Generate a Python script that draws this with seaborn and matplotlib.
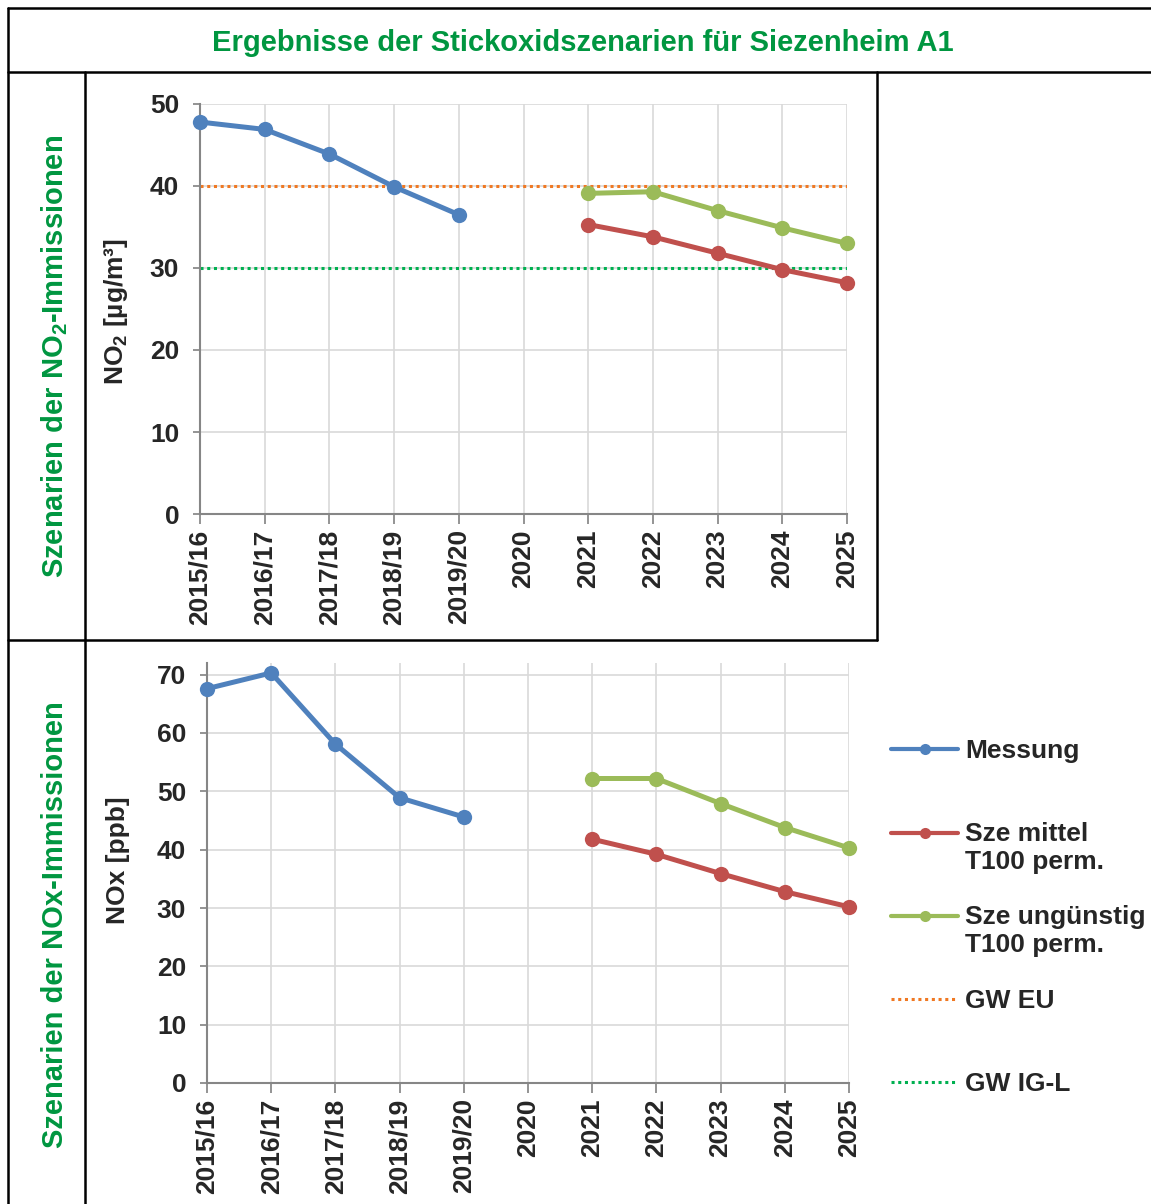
import numpy as np
import pandas as pd
import matplotlib
matplotlib.use("Agg")
import matplotlib.pyplot as plt
from matplotlib.lines import Line2D
from matplotlib.legend_handler import HandlerLine2D
import seaborn as sns

categories = ['2015/16', '2016/17', '2017/18', '2018/19', '2019/20',
              '2020', '2021', '2022', '2023', '2024', '2025']
nan = np.nan

no2_messung = [47.8, 46.9, 43.9, 39.9, 36.5, nan, nan, nan, nan, nan, nan]
no2_mittel = [nan, nan, nan, nan, nan, nan, 35.3, 33.8, 31.8, 29.8, 28.2]
no2_ungunstig = [nan, nan, nan, nan, nan, nan, 39.1, 39.3, 37.0, 34.9, 33.0]
gw_eu = 40
gw_igl = 30

nox_messung = [67.6, 70.3, 58.1, 48.9, 45.6, nan, nan, nan, nan, nan, nan]
nox_mittel = [nan, nan, nan, nan, nan, nan, 41.8, 39.2, 35.9, 32.8, 30.2]
nox_ungunstig = [nan, nan, nan, nan, nan, nan, 52.2, 52.2, 47.9, 43.8, 40.3]

# every legend entry gets two text lines, like the Excel legend slots
labels = ['Messung\n ', 'Sze mittel\nT100 perm.', 'Sze ungünstig\nT100 perm.', 'GW EU\n ', 'GW IG-L\n ']
colors = ['#4F81BD', '#C0504D', '#9BBB59', '#F07822', '#00B050']
green_text = '#009640'

W, H = 1151, 1204
FS = 19

sns.set_theme(style="whitegrid")
plt.rcParams['font.family'] = ['Liberation Sans', 'DejaVu Sans']
plt.rcParams['font.weight'] = 'bold'
plt.rcParams['mathtext.fontset'] = 'custom'
plt.rcParams['mathtext.rm'] = 'Liberation Sans:bold'
plt.rcParams['mathtext.bf'] = 'Liberation Sans:bold'
plt.rcParams['mathtext.default'] = 'bf'

fig = plt.figure(figsize=(W / 100, H / 100), dpi=100)


def box(l, t, r, b):
    return [l / W, 1 - b / H, (r - l) / W, (b - t) / H]


def fline(x0, y0, x1, y1):
    fig.add_artist(Line2D([x0 / W, x1 / W], [1 - y0 / H, 1 - y1 / H],
                          transform=fig.transFigure, color='black', lw=1.8))


xpos = np.arange(len(categories))
dots = (0, (1, 1.2))


def draw(ax, series, limits, ymax, yticks):
    for vals, col in zip(series, colors[:3]):
        sns.lineplot(x=xpos, y=vals, ax=ax, color=col, linewidth=3.6,
                     marker='o', markersize=11, markeredgewidth=0, errorbar=None,
                     clip_on=False, zorder=5)
    for val, col in zip(limits, colors[3:]):
        sns.lineplot(x=xpos, y=[val] * len(xpos), ax=ax, color=col,
                     linewidth=2.2, linestyle=dots, errorbar=None)
    ax.set_xlim(0, len(categories) - 1)
    ax.set_ylim(0, ymax)
    ax.set_yticks(yticks)
    ax.set_xticks(xpos)
    ax.set_xticklabels(categories, rotation=90, fontsize=FS, fontweight='bold')
    ax.tick_params(axis='y', labelsize=FS, length=5, color='#868686', direction='out', left=True, pad=10)
    ax.tick_params(axis='x', length=7, color='#868686', direction='out', bottom=True, pad=4)
    for lab in ax.get_yticklabels():
        lab.set_fontweight('bold')
    ax.grid(True, color='#D9D9D9', linewidth=1.2)
    for s in ['top', 'right']:
        ax.spines[s].set_visible(False)
    for s in ['left', 'bottom']:
        ax.spines[s].set_color('#868686')
        ax.spines[s].set_linewidth(1.5)
    ax.set_facecolor('white')


ax1 = fig.add_axes(box(200, 104, 847, 514))
draw(ax1, [no2_messung, no2_mittel, no2_ungunstig], [gw_eu, gw_igl], 50, range(0, 51, 10))
ax1.set_ylabel('NO$_2$ [µg/m³]', fontsize=FS, fontweight='bold')
ax1.yaxis.set_label_coords(-0.108, 0.495)

ax2 = fig.add_axes(box(207, 663, 849, 1083))
draw(ax2, [nox_messung, nox_mittel, nox_ungunstig], [], 72, range(0, 71, 10))
ax2.set_ylabel('NOx [ppb]', fontsize=FS, fontweight='bold')
ax2.yaxis.set_label_coords(-0.120, 0.53)

# table frame
fline(8, 8, W, 8)
fline(8, 8, 8, H)
fline(8, 72, W, 72)
fline(85, 72, 85, H)
fline(877, 72, 877, 640)
fline(8, 640, 877, 640)

fig.text(583 / W, 1 - 43 / H, 'Ergebnisse der Stickoxidszenarien für Siezenheim A1',
         ha='center', va='center', color=green_text, fontsize=21, fontweight='bold')
fig.text(55 / W, 1 - 356 / H, 'Szenarien der NO$_2$-Immissionen', rotation=90,
         ha='center', va='center', color=green_text, fontsize=21, fontweight='bold')
fig.text(55 / W, 1 - 925 / H, 'Szenarien der NOx-Immissionen', rotation=90,
         ha='center', va='center', color=green_text, fontsize=21, fontweight='bold')


class FirstLineHandler(HandlerLine2D):
    # put the legend line next to the first text line
    def create_artists(self, legend, orig_handle, xdescent, ydescent, width, height, fontsize, trans):
        arts = super().create_artists(legend, orig_handle, xdescent, ydescent, width, height, fontsize, trans)
        for a in arts:
            a.set_ydata(np.asarray(a.get_ydata()) + 0.6 * fontsize)
        return arts


handles = [Line2D([], [], color=c, lw=3, marker='o', markersize=8, markeredgewidth=0) for c in colors[:3]]
handles += [Line2D([], [], color=c, lw=2.2, linestyle=dots) for c in colors[3:]]
fig.legend(handles, labels, loc='upper left', bbox_to_anchor=(891 / W, 1 - 739 / H),
           frameon=False, prop={'size': FS, 'weight': 'bold'}, handlelength=2.55,
           handletextpad=0.25, labelspacing=1.19, borderpad=0, borderaxespad=0,
           handler_map={Line2D: FirstLineHandler()})

fig.savefig('out.png', dpi=100, facecolor='white')
